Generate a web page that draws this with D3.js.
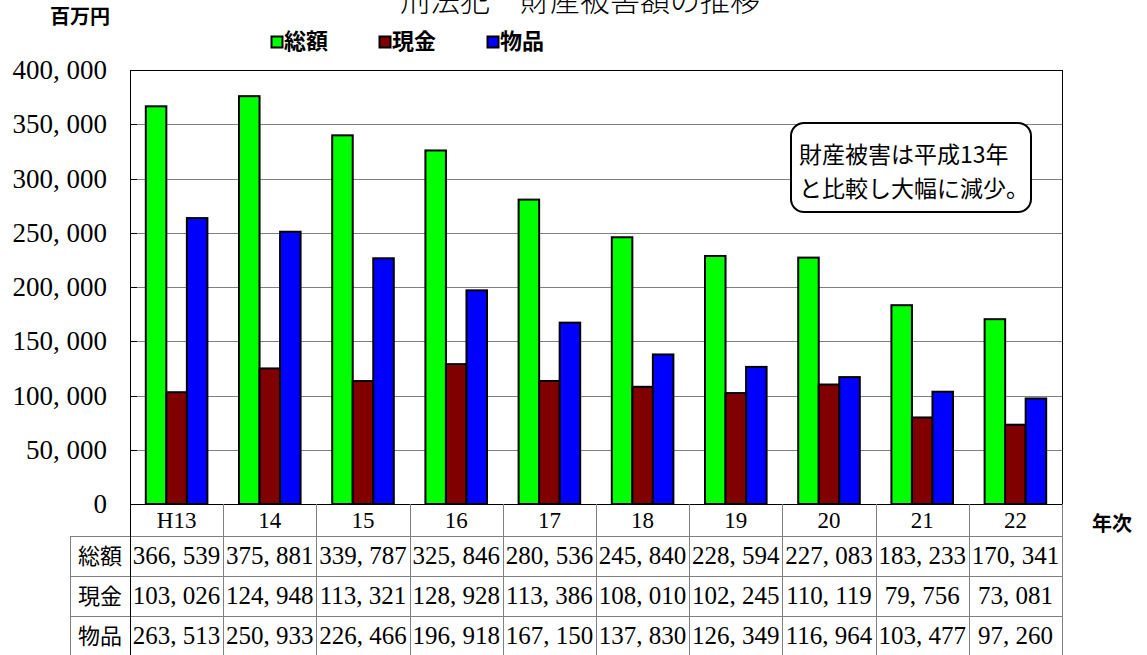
<!DOCTYPE html>
<head>
<meta charset="utf-8">
<style>
body { margin: 0; background: #fff; }
svg { display: block; }
.num { font-family: "Liberation Serif", "DejaVu Serif", serif; }
.jp { font-family: "Noto Sans CJK JP", sans-serif; }
</style>
</head>
<body>
<svg width="1147" height="655"></svg>
<script src="https://d3js.org/d3.v7.min.js"></script>
<script>

// data
var years = ["H13", "14", "15", "16", "17", "18", "19", "20", "21", "22"];
var seriesNames = ["総額", "現金", "物品"];
var total = [366539, 375881, 339787, 325846, 280536, 245840, 228594, 227083, 183233, 170341];
var cash = [103026, 124948, 113321, 128928, 113386, 108010, 102245, 110119, 79756, 73081];
var goods = [263513, 250933, 226466, 196918, 167150, 137830, 126349, 116964, 103477, 97260];
var yTicks = [0, 50000, 100000, 150000, 200000, 250000, 300000, 350000, 400000];
var colors = ["#00ff00", "#800000", "#0000ff"];

var series = [total, cash, goods];

var svg = d3.select("svg");

var pLeft = 130, pRight = 1062, pTop = 70, pBottom = 504;

var x0 = d3.scaleBand().domain(years).range([pLeft, pRight]).padding(0);
var x1 = d3.scaleBand().domain(seriesNames).range([0, x0.bandwidth()]).paddingInner(0).paddingOuter(0.77);
var y = d3.scaleLinear().domain([0, 400000]).range([pBottom, pTop]);

// number format with the wide comma look
function fmt(v) { return d3.format(",")(v).replace(/,/g, ", "); }

// gridlines
svg.append("g")
  .selectAll("line")
  .data(yTicks.slice(1, -1))
  .enter().append("line")
  .attr("x1", pLeft).attr("x2", pRight)
  .attr("y1", d => Math.round(y(d)) + 0.5).attr("y2", d => Math.round(y(d)) + 0.5)
  .attr("stroke", "#808080").attr("stroke-width", 1);

// small ticks on left axis
svg.append("g")
  .selectAll("line")
  .data(yTicks)
  .enter().append("line")
  .attr("x1", pLeft).attr("x2", pLeft + 7)
  .attr("y1", d => Math.round(y(d)) + 0.5).attr("y2", d => Math.round(y(d)) + 0.5)
  .attr("stroke", "#000").attr("stroke-width", 1);

// y labels
svg.append("g")
  .selectAll("text")
  .data(yTicks)
  .enter().append("text")
  .attr("class", "num")
  .attr("x", 107)
  .attr("y", d => y(d) + 9)
  .attr("text-anchor", "end")
  .attr("font-size", 27)
  .attr("fill", "#000")
  .text(d => d === 0 ? "0" : fmt(d));

// bars
var groups = svg.append("g")
  .selectAll("g")
  .data(years)
  .enter().append("g")
  .attr("transform", d => "translate(" + x0(d) + ",0)");

groups.selectAll("rect")
  .data((d, i) => seriesNames.map((s, j) => ({ s: s, v: series[j][i], c: colors[j] })))
  .enter().append("rect")
  .attr("x", d => x1(d.s))
  .attr("y", d => y(d.v))
  .attr("width", x1.bandwidth())
  .attr("height", d => pBottom - y(d.v))
  .attr("fill", d => d.c)
  .attr("stroke", "#000")
  .attr("stroke-width", 2);

// plot frame
svg.append("rect")
  .attr("x", pLeft + 0.5).attr("y", pTop + 0.5)
  .attr("width", pRight - pLeft).attr("height", pBottom - pTop)
  .attr("fill", "none").attr("stroke", "#000").attr("stroke-width", 1);

// data table
var rowTop = [pBottom, 536, 576, 616, 656];
var tableLeft = 70;
var tbl = svg.append("g");

// horizontal lines
tbl.selectAll("line.h")
  .data(rowTop.slice(1))
  .enter().append("line")
  .attr("x1", tableLeft).attr("x2", pRight)
  .attr("y1", d => d + 0.5).attr("y2", d => d + 0.5)
  .attr("stroke", "#808080");

// vertical lines
var vx = years.map(d => x0(d)).concat([pRight]);
tbl.selectAll("line.v")
  .data(vx)
  .enter().append("line")
  .attr("x1", d => Math.round(d) + 0.5).attr("x2", d => Math.round(d) + 0.5)
  .attr("y1", pBottom).attr("y2", 656)
  .attr("stroke", d => d === pLeft ? "#000" : "#808080");
tbl.append("line")
  .attr("x1", tableLeft + 0.5).attr("x2", tableLeft + 0.5)
  .attr("y1", rowTop[1]).attr("y2", 656)
  .attr("stroke", "#808080");

// category header
tbl.selectAll("text.cat")
  .data(years)
  .enter().append("text")
  .attr("class", "num")
  .attr("x", d => x0(d) + x0.bandwidth() / 2)
  .attr("y", 528)
  .attr("text-anchor", "middle")
  .attr("font-size", 23)
  .text(d => d);

seriesNames.forEach(function(s, j) {
  var cy = (rowTop[j + 1] + rowTop[j + 2]) / 2 + 8;
  tbl.append("text")
    .attr("class", "jp")
    .attr("x", (tableLeft + pLeft) / 2)
    .attr("y", cy)
    .attr("text-anchor", "middle")
    .attr("font-size", 22)
    .text(s);
  tbl.selectAll("text.r" + j)
    .data(series[j])
    .enter().append("text")
    .attr("class", "num")
    .attr("x", (d, i) => x0(years[i]) + x0.bandwidth() / 2)
    .attr("y", cy)
    .attr("text-anchor", "middle")
    .attr("font-size", 25)
    .text(d => fmt(d));
});

// title, unit, axis name
svg.append("text")
  .attr("class", "jp")
  .attr("x", 580).attr("y", 11)
  .attr("text-anchor", "middle")
  .attr("font-size", 30)
  .attr("font-weight", 300)
  .text("刑法犯　財産被害額の推移");

svg.append("text")
  .attr("class", "jp")
  .attr("x", 50).attr("y", 24)
  .attr("font-size", 20).attr("font-weight", "bold")
  .text("百万円");

svg.append("text")
  .attr("class", "jp")
  .attr("x", 1092).attr("y", 531)
  .attr("font-size", 20).attr("font-weight", "bold")
  .text("年次");

// legend
var legX = [271, 379, 487];
var leg = svg.append("g")
  .selectAll("g")
  .data(seriesNames)
  .enter().append("g")
  .attr("transform", (d, i) => "translate(" + legX[i] + ",0)");
leg.append("rect")
  .attr("x", 0.5).attr("y", 36.5)
  .attr("width", 11).attr("height", 11)
  .attr("fill", (d, i) => colors[i])
  .attr("stroke", "#000").attr("stroke-width", 2);
leg.append("text")
  .attr("class", "jp")
  .attr("x", 13).attr("y", 49)
  .attr("font-size", 22).attr("font-weight", "bold")
  .text(d => d);

// note box
svg.append("rect")
  .attr("x", 791).attr("y", 123)
  .attr("width", 240).attr("height", 89)
  .attr("rx", 13).attr("ry", 13)
  .attr("fill", "#fff").attr("stroke", "#000").attr("stroke-width", 2);
svg.append("text")
  .attr("class", "jp")
  .attr("x", 799).attr("y", 163)
  .attr("font-size", 23)
  .text("財産被害は平成13年");
svg.append("text")
  .attr("class", "jp")
  .attr("x", 799).attr("y", 197)
  .attr("font-size", 23)
  .text("と比較し大幅に減少。");

</script>
</body>
